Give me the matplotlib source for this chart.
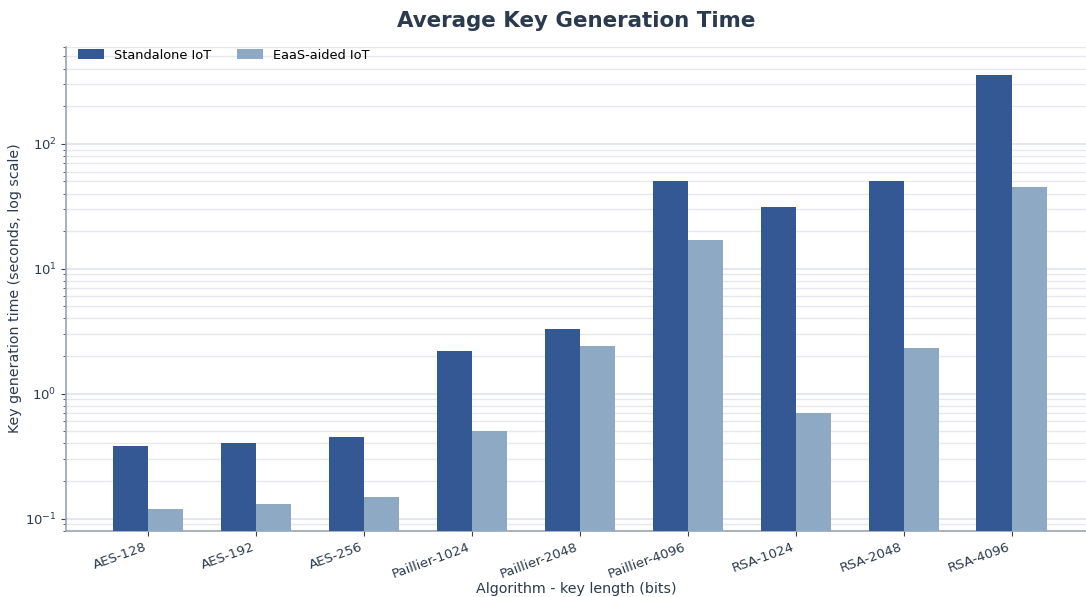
"""Bar chart of average key generation time per algorithm."""

import matplotlib

matplotlib.use("Agg")
import matplotlib.pyplot as plt
import numpy as np

algorithms = [
    "AES-128", "AES-192", "AES-256",
    "Paillier-1024", "Paillier-2048", "Paillier-4096",
    "RSA-1024", "RSA-2048", "RSA-4096",
]
standalone = [0.38, 0.40, 0.45, 2.2, 3.3, 50, 31, 50, 356]
eaas_aided = [0.12, 0.13, 0.15, 0.50, 2.4, 17, 0.70, 2.3, 45]

text_color = "#2b3a4c"
x = np.arange(len(algorithms))
width = 0.325

fig = plt.figure(figsize=(10.86, 5.97), dpi=100)
ax = fig.add_axes([0.061, 0.111, 0.939, 0.811])

ax.bar(x - width / 2, standalone, width, color="#345893", label="Standalone IoT", zorder=3)
ax.bar(x + width / 2, eaas_aided, width, color="#8ea9c3", label="EaaS-aided IoT", zorder=3)

ax.set_yscale("log")
ax.set_ylim(0.08, 600)
ax.set_xlim(-0.76, 8.69)
ax.set_xticks(x)
ax.set_xticklabels(algorithms, rotation=20, ha="right", color=text_color, fontsize=9.5)
ax.tick_params(axis="y", colors=text_color, labelsize=9.5)
ax.tick_params(axis="both", which="both", color="#3a4250")

ax.grid(True, which="major", axis="y", color="#dfe3ec", linewidth=1.2, zorder=0)
ax.grid(True, which="minor", axis="y", color="#e6e8ef", linewidth=1.0, zorder=0)

for side in ("top", "right"):
    ax.spines[side].set_visible(False)
for side in ("left", "bottom"):
    ax.spines[side].set_color("#9aa3b5")
    ax.spines[side].set_linewidth(1.2)

ax.set_xlabel("Algorithm - key length (bits)", color=text_color, fontsize=10.3, labelpad=1)
ax.set_ylabel("Key generation time (seconds, log scale)", color=text_color, fontsize=10.2,
              labelpad=2)
ax.set_title("Average Key Generation Time", color=text_color, fontsize=15.4,
             fontweight="bold", pad=14)

ax.legend(loc="upper left", frameon=False, ncol=2, fontsize=9.3,
          bbox_to_anchor=(0.0, 1.02), handlelength=2, columnspacing=2.0)

fig.savefig("out.png", dpi=100)
